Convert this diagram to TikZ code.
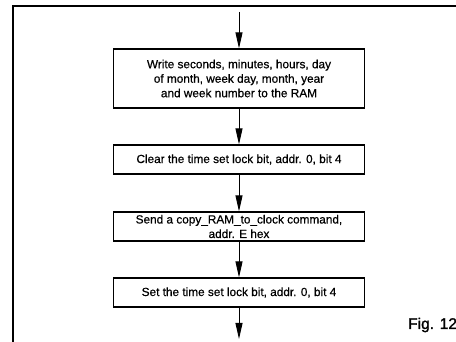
\documentclass[tikz,border=0pt]{standalone}
\usepackage{fontspec}
\setmainfont{Liberation Sans}
\newfontfamily\boxfont{Liberation Sans}[RawFeature={embolden=0.6}]
\newfontfamily\figfont{Liberation Sans}[RawFeature={embolden=1.6}]
\usetikzlibrary{arrows.meta}
\begin{document}
\begin{tikzpicture}[x=1pt,y=-1pt,
  stepbox/.style={draw,line width=1.2pt,minimum width=251pt,inner sep=0pt,align=center,
    font=\boxfont\fontsize{11.8}{14.5}\selectfont},
  flow/.style={line width=0.9pt,-{Triangle[length=16pt,width=7pt]}}]
\useasboundingbox (0,0) rectangle (456,342);
\draw[line width=1.5pt] (13,342) -- (13,6) -- (456,6);
\node[stepbox,minimum height=59pt] (b1) at (239,78.5) {Write seconds, minutes, hours, day\\of month, week day, month, year\\and week number to the RAM};
\node[stepbox,minimum height=29pt] (b2) at (239,159.5) {Clear the time set lock bit, addr. 0, bit 4};
\node[stepbox,minimum height=29pt] (b3) at (239,226.5) {Send a copy\_RAM\_to\_clock command,\\addr. E hex};
\node[stepbox,minimum height=29pt] (b4) at (239,292.5) {Set the time set lock bit, addr. 0, bit 4};
\coordinate (top) at (239,12);
\coordinate (bot) at (239,339);
\draw[flow] (top) -- (b1.north);
\draw[flow] (b1) -- (b2);
\draw[flow] (b2) -- (b3);
\draw[flow] (b3) -- (b4);
\draw[flow] (b4) -- (bot);
\node[anchor=base west,inner sep=0pt,font=\figfont\fontsize{15.5}{18}\selectfont] (fig) at (408,329) {Fig. 12};
\end{tikzpicture}
\end{document}
